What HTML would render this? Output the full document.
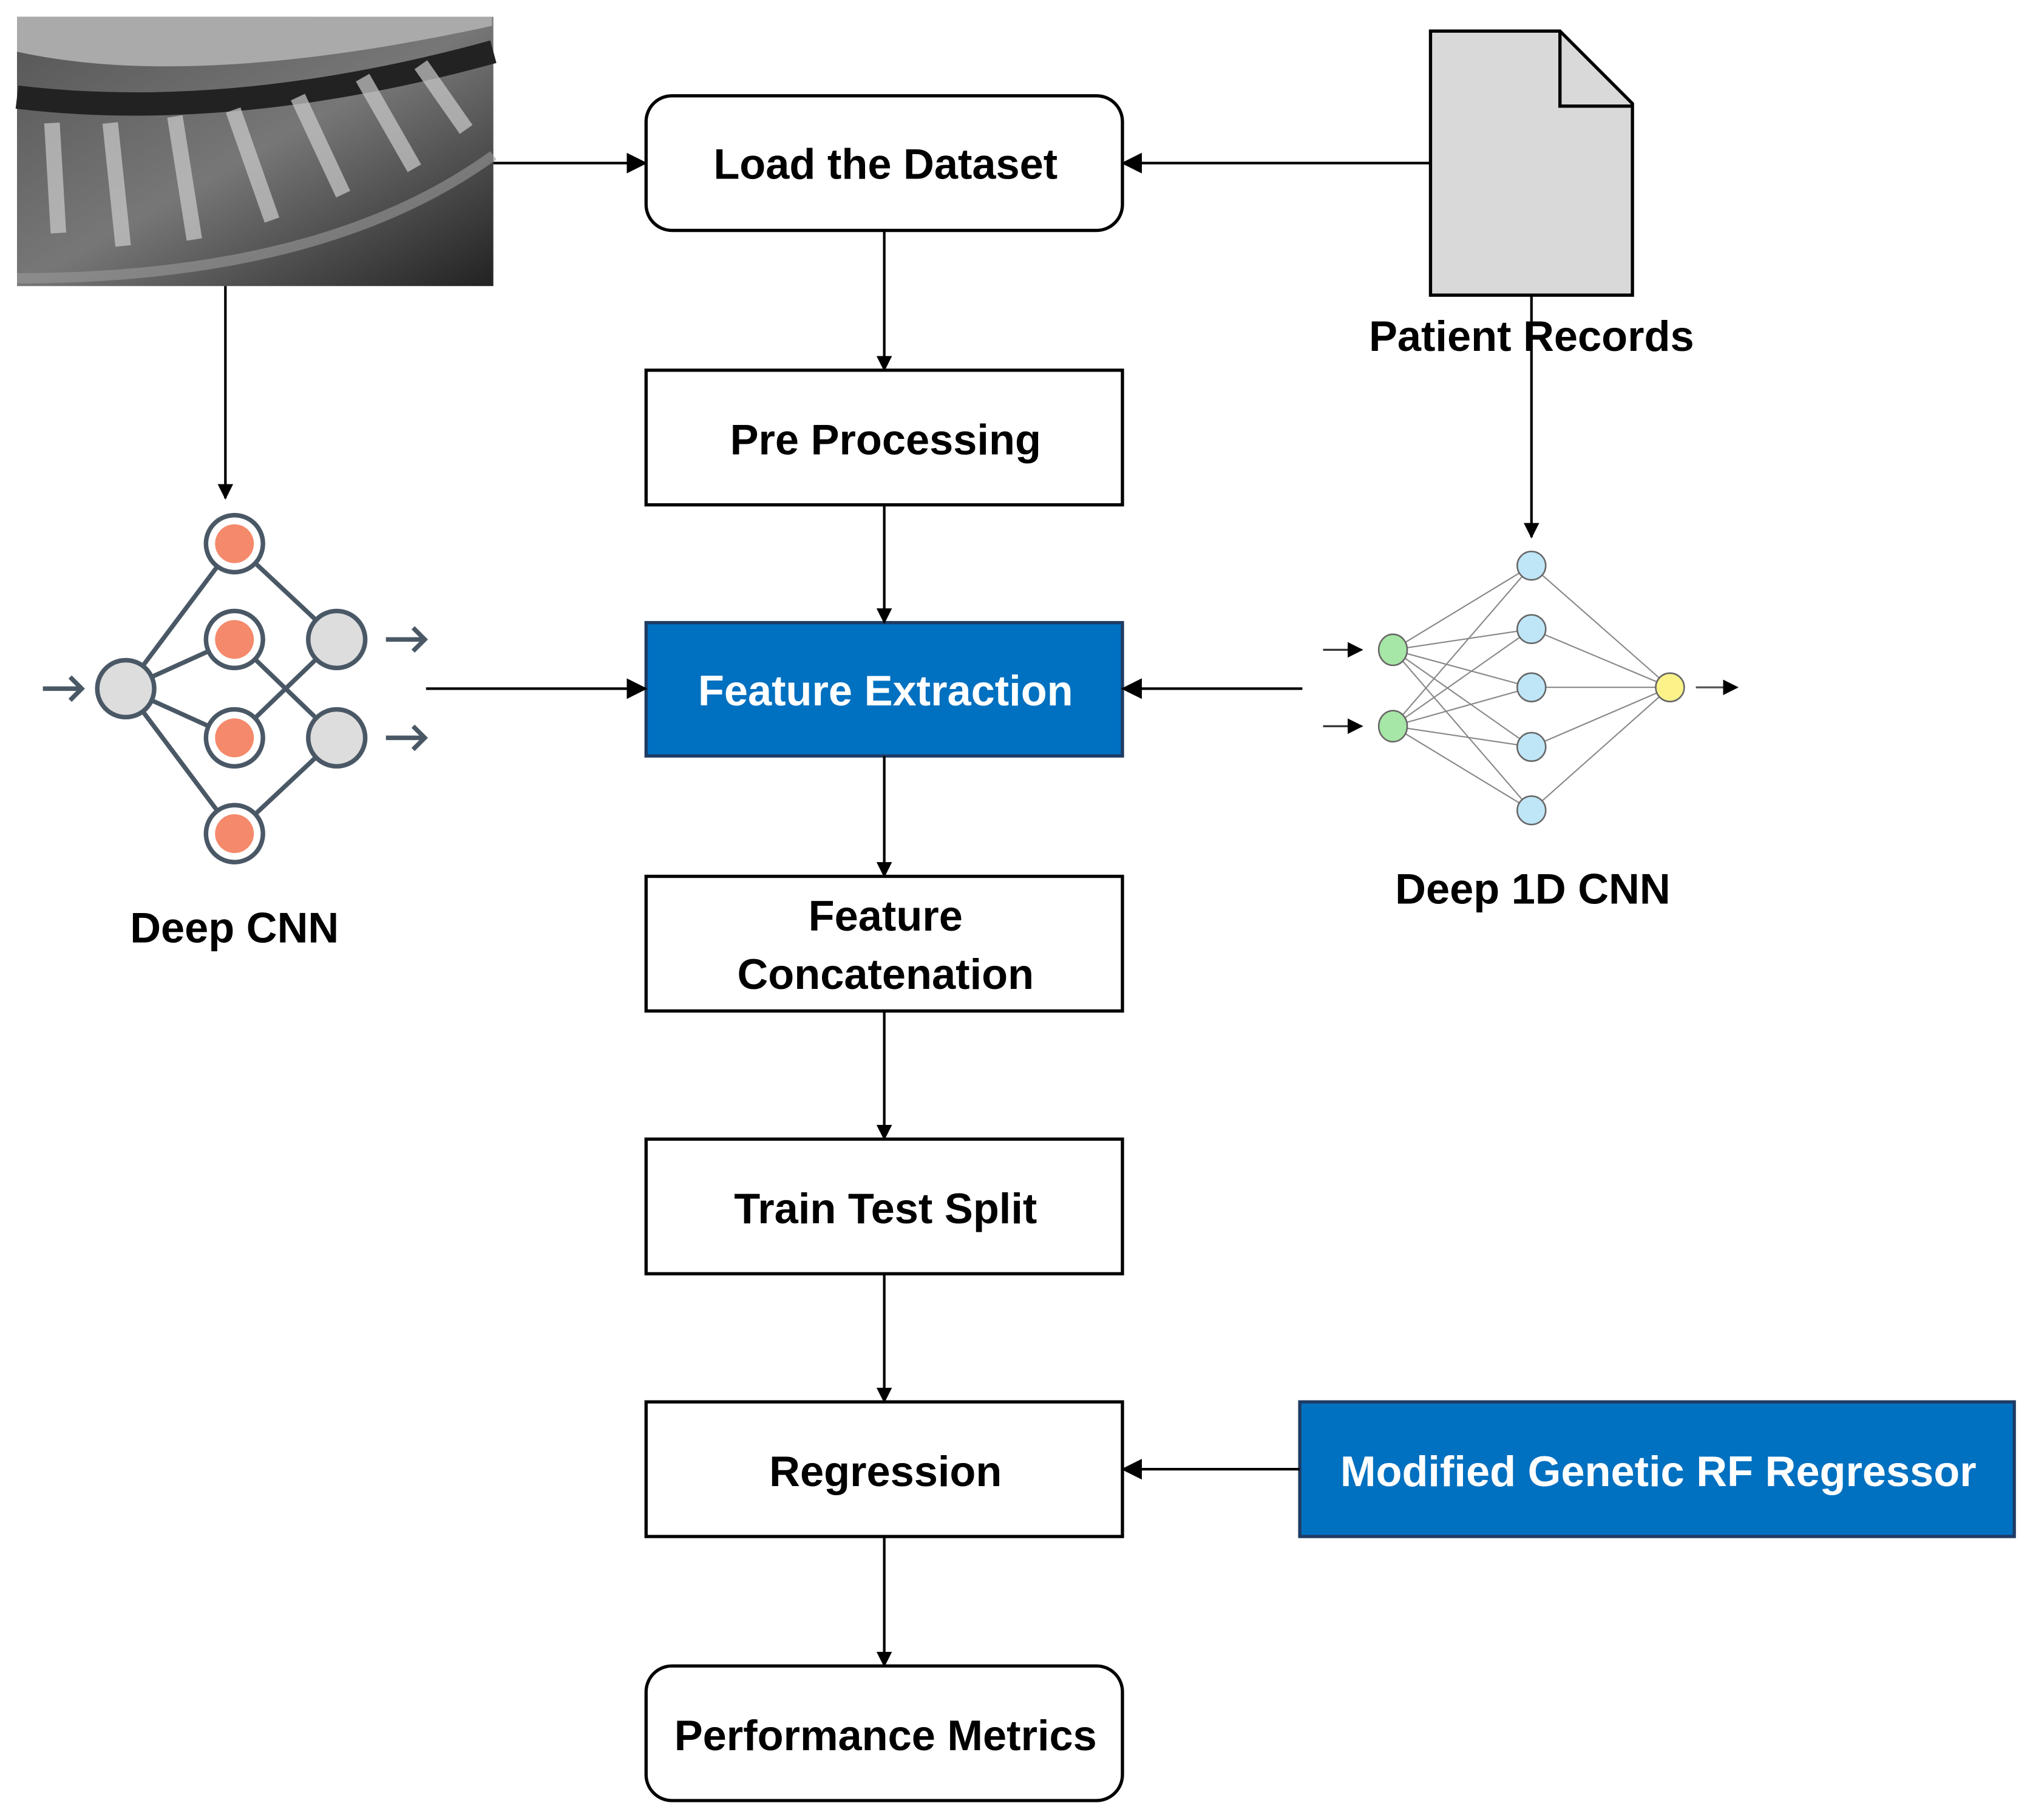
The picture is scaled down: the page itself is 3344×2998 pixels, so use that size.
<!DOCTYPE html>
<html><head><style>html,body{margin:0;padding:0;background:#fff}svg{display:block}</style></head>
<body>
<svg width="3344" height="2998" viewBox="0 0 1568 1406" xmlns="http://www.w3.org/2000/svg" font-family="'Liberation Sans', sans-serif" font-weight="bold">
<defs>
<marker id="a" markerWidth="12" markerHeight="16" refX="11" refY="6" orient="auto" markerUnits="userSpaceOnUse"><path d="M0,0 L12,6 L0,12 z" fill="#000"/></marker>
<marker id="b" markerWidth="16" markerHeight="16" refX="15" refY="8" orient="auto" markerUnits="userSpaceOnUse"><path d="M0,0 L16,8 L0,16 z" fill="#000"/></marker>
<linearGradient id="xg" x1="0" y1="0" x2="1" y2="1"><stop offset="0" stop-color="#555"/><stop offset="0.5" stop-color="#777"/><stop offset="1" stop-color="#222"/></linearGradient>
</defs>
<rect x="13" y="13" width="368" height="208" fill="url(#xg)"/>
<path d="M13,40 Q150,70 380,20 L380,13 L13,13z" fill="#aaa"/>
<path d="M13,75 Q180,95 381,40" stroke="#222" stroke-width="18" fill="none"/>
<g stroke="#ccc" stroke-width="12" fill="none" opacity="0.7">
<path d="M40,95 L45,180"/><path d="M85,95 L95,190"/><path d="M135,90 L150,185"/><path d="M180,85 L210,170"/><path d="M230,75 L265,150"/><path d="M280,60 L320,130"/><path d="M325,50 L360,100"/>
</g>
<path d="M13,215 Q250,215 381,120" stroke="#999" stroke-width="8" fill="none" opacity="0.6"/>
<path d="M1105,24 L1205,24 L1261,80 L1261,228 L1105,228 z" fill="#d9d9d9" stroke="#000" stroke-width="2.5"/>
<path d="M1205,24 L1205,82 L1261,82" fill="none" stroke="#000" stroke-width="2.5"/>
<g stroke="#000" stroke-width="2.5" fill="#fff">
<rect x="499" y="74" width="368" height="104" rx="20"/>
<rect x="499" y="286" width="368" height="104"/>
<rect x="499" y="677" width="368" height="104"/>
<rect x="499" y="880" width="368" height="104"/>
<rect x="499" y="1083" width="368" height="104"/>
<rect x="499" y="1287" width="368" height="104" rx="20"/>
</g>
<rect x="499" y="481" width="368" height="103" fill="#0070C0" stroke="#1f3b64" stroke-width="2.5"/>
<rect x="1004" y="1083" width="552" height="104" fill="#0070C0" stroke="#1f3b64" stroke-width="2.5"/>
<g stroke="#000" stroke-width="2" fill="none">
<line x1="683" y1="178" x2="683" y2="286" marker-end="url(#a)"/>
<line x1="683" y1="390" x2="683" y2="481" marker-end="url(#a)"/>
<line x1="683" y1="584" x2="683" y2="677" marker-end="url(#a)"/>
<line x1="683" y1="781" x2="683" y2="880" marker-end="url(#a)"/>
<line x1="683" y1="984" x2="683" y2="1083" marker-end="url(#a)"/>
<line x1="683" y1="1187" x2="683" y2="1287" marker-end="url(#a)"/>
<line x1="174" y1="221" x2="174" y2="385" marker-end="url(#a)"/>
<line x1="1183" y1="228" x2="1183" y2="415" marker-end="url(#a)"/>
<line x1="381" y1="126" x2="499" y2="126" marker-end="url(#b)"/>
<line x1="1105" y1="126" x2="867" y2="126" marker-end="url(#b)"/>
<line x1="329" y1="532" x2="499" y2="532" marker-end="url(#b)"/>
<line x1="1006" y1="532" x2="867" y2="532" marker-end="url(#b)"/>
<line x1="1004" y1="1135" x2="867" y2="1135" marker-end="url(#b)"/>
</g>
<g stroke="#4a5866" stroke-width="3.5" fill="none">
<line x1="97" y1="532" x2="181" y2="420"/><line x1="97" y1="532" x2="181" y2="494"/>
<line x1="97" y1="532" x2="181" y2="570"/><line x1="97" y1="532" x2="181" y2="644"/>
<line x1="181" y1="420" x2="260" y2="494"/><line x1="181" y1="494" x2="260" y2="570"/>
<line x1="181" y1="570" x2="260" y2="494"/><line x1="181" y1="644" x2="260" y2="570"/>
<path d="M33,532 H62 M54,523 L63,532 L54,541"/>
<path d="M298,494 H327 M319,485 L328,494 L319,503"/>
<path d="M298,570 H327 M319,561 L328,570 L319,579"/>
</g>
<g stroke="#4a5866" stroke-width="3.5">
<circle cx="97" cy="532" r="22" fill="#ddd"/>
<circle cx="260" cy="494" r="22" fill="#ddd"/>
<circle cx="260" cy="570" r="22" fill="#ddd"/>
<circle cx="181" cy="420" r="22" fill="#fff"/><circle cx="181" cy="420" r="15" fill="#f4896b" stroke="none"/>
<circle cx="181" cy="494" r="22" fill="#fff"/><circle cx="181" cy="494" r="15" fill="#f4896b" stroke="none"/>
<circle cx="181" cy="570" r="22" fill="#fff"/><circle cx="181" cy="570" r="15" fill="#f4896b" stroke="none"/>
<circle cx="181" cy="644" r="22" fill="#fff"/><circle cx="181" cy="644" r="15" fill="#f4896b" stroke="none"/>
</g>
<g stroke="#888" stroke-width="1" fill="none">
<line x1="1076" y1="502" x2="1183" y2="437"/><line x1="1076" y1="502" x2="1183" y2="486"/><line x1="1076" y1="502" x2="1183" y2="531"/><line x1="1076" y1="502" x2="1183" y2="577"/><line x1="1076" y1="502" x2="1183" y2="626"/>
<line x1="1076" y1="561" x2="1183" y2="437"/><line x1="1076" y1="561" x2="1183" y2="486"/><line x1="1076" y1="561" x2="1183" y2="531"/><line x1="1076" y1="561" x2="1183" y2="577"/><line x1="1076" y1="561" x2="1183" y2="626"/>
<line x1="1290" y1="531" x2="1183" y2="437"/><line x1="1290" y1="531" x2="1183" y2="486"/><line x1="1290" y1="531" x2="1183" y2="531"/><line x1="1290" y1="531" x2="1183" y2="577"/><line x1="1290" y1="531" x2="1183" y2="626"/>
<line x1="1022" y1="502" x2="1052" y2="502" stroke="#333" stroke-width="1.5" marker-end="url(#a)"/>
<line x1="1022" y1="561" x2="1052" y2="561" stroke="#333" stroke-width="1.5" marker-end="url(#a)"/>
<line x1="1310" y1="531" x2="1342" y2="531" stroke="#555" stroke-width="1.5" marker-end="url(#a)"/>
</g>
<g stroke="#666" stroke-width="1.2">
<ellipse cx="1076" cy="502" rx="11" ry="12" fill="#a6e6a6"/>
<ellipse cx="1076" cy="561" rx="11" ry="12" fill="#a6e6a6"/>
<ellipse cx="1183" cy="437" rx="11" ry="11" fill="#bfe6f7"/>
<ellipse cx="1183" cy="486" rx="11" ry="11" fill="#bfe6f7"/>
<ellipse cx="1183" cy="531" rx="11" ry="11" fill="#bfe6f7"/>
<ellipse cx="1183" cy="577" rx="11" ry="11" fill="#bfe6f7"/>
<ellipse cx="1183" cy="626" rx="11" ry="11" fill="#bfe6f7"/>
<ellipse cx="1290" cy="531" rx="11" ry="11" fill="#fbf38a"/>
</g>
<g font-size="33" text-anchor="middle" fill="#000">
<text x="684" y="138">Load the Dataset</text>
<text x="684" y="351">Pre Processing</text>
<text x="684" y="545" fill="#fff">Feature Extraction</text>
<text x="684" y="719">Feature</text>
<text x="684" y="764">Concatenation</text>
<text x="684" y="945">Train Test Split</text>
<text x="684" y="1148">Regression</text>
<text x="684" y="1352">Performance Metrics</text>
<text x="1281" y="1148" fill="#fff">Modified Genetic RF Regressor</text>
<text x="1183" y="271">Patient Records</text>
<text x="181" y="728">Deep CNN</text>
<text x="1184" y="698">Deep 1D CNN</text>
</g>
</svg>
</body></html>
